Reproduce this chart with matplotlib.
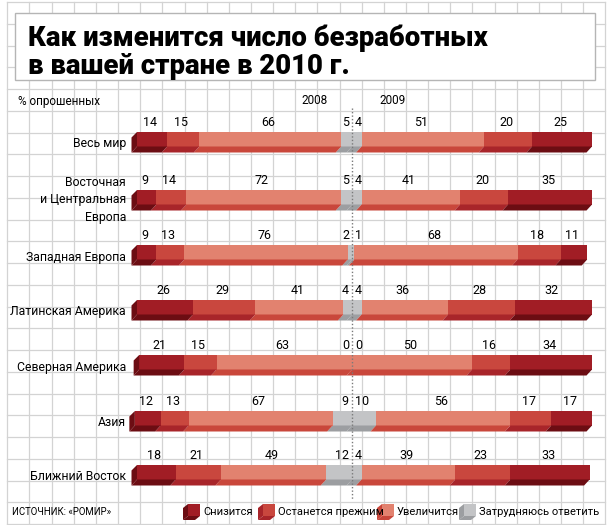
import matplotlib
matplotlib.use("Agg")
import matplotlib.pyplot as plt
from matplotlib.patches import Polygon, Rectangle

plt.rcParams['font.family'] = ['Roboto', 'DejaVu Sans']

# survey data, % of respondents
regions = ["Весь мир", "Восточная\nи Центральная\nЕвропа", "Западная Европа",
           "Латинская Америка", "Северная Америка", "Азия", "Ближний Восток"]
decrease_2008 = [14, 9, 9, 26, 21, 12, 18]
same_2008 = [15, 14, 13, 29, 15, 13, 21]
increase_2008 = [66, 72, 76, 41, 63, 67, 49]
unsure_2008 = [5, 5, 2, 4, 0, 9, 12]
decrease_2009 = [25, 35, 11, 32, 34, 17, 33]
same_2009 = [20, 20, 18, 28, 16, 17, 23]
increase_2009 = [51, 41, 68, 36, 50, 56, 39]
unsure_2009 = [4, 4, 1, 4, 0, 10, 4]

legend_labels = ["Снизится", "Останется прежним", "Увеличится", "Затрудняюсь ответить"]

# top face / bottom face colours per category
face = ["#a11d25", "#c9473e", "#e2826f", "#c3c4c6"]
shade = ["#6c0d13", "#a8252a", "#c9473b", "#9c9ea1"]

# layout in pixels
CENTER = 352
SCALE_L = 2.15
SCALE_R = 2.4
H_FRONT = 14.5
H_BOT = 6
D = 5.5
row_top = [132, 190, 245, 300, 355, 411, 465]


def draw_segment(ax, x0, x1, ytop, c_top, c_bot):
    if x1 - x0 <= 0:
        return
    ym = ytop + H_FRONT
    yb = ym + H_BOT
    ax.add_patch(Rectangle((x0, ytop), x1 - x0, H_FRONT, color=c_top, lw=0))
    ax.add_patch(Polygon([(x0, ym), (x1, ym), (x1 - D, yb), (x0 - D, yb)],
                         closed=True, color=c_bot, lw=0))


def draw_cap(ax, x0, ytop, c):
    ym = ytop + H_FRONT
    yb = ym + H_BOT
    ax.add_patch(Polygon([(x0, ytop), (x0, ym), (x0 - D, yb), (x0 - D, ytop + D)],
                         closed=True, color=c, lw=0))


fig = plt.figure(figsize=(6.11, 5.25), dpi=100)
ax = fig.add_axes([0, 0, 1, 1])
ax.set_xlim(0, 611)
ax.set_ylim(525, 0)
ax.axis("off")

# graph paper background
gx = [7.3 + 22.15 * k for k in range(28)]
gy = [2 + 21.75 * k for k in range(25)]
for x in gx:
    ax.plot([x, x], [gy[0], gy[-1]], color="#d3d3d3", lw=0.9, zorder=0)
for y in gy:
    ax.plot([gx[0], gx[-1]], [y, y], color="#d3d3d3", lw=0.9, zorder=0)

# title box
ax.add_patch(Rectangle((15, 13), 580, 67, facecolor="white", edgecolor="#b5b5b5",
                       lw=1, zorder=1))
ax.text(28, 46, "Как изменится число безработных", fontsize=19.8, fontweight="black",
        va="baseline", ha="left", zorder=2)
ax.text(28, 74, "в вашей стране в 2010 г.", fontsize=19.8, fontweight="black",
        va="baseline", ha="left", zorder=2)

ax.text(18, 101, "% опрошенных", fontsize=8.5, va="center", ha="left")
ax.text(315, 100, "2008", fontsize=8.5, va="center", ha="center")
ax.text(393, 100, "2009", fontsize=8.5, va="center", ha="center")

for i, name in enumerate(regions):
    yt = row_top[i]
    left = [unsure_2008[i], increase_2008[i], same_2008[i], decrease_2008[i]]
    right = [unsure_2009[i], increase_2009[i], same_2009[i], decrease_2009[i]]
    cats = [3, 2, 1, 0]

    # 2008, drawn from center to the left
    x_in = CENTER
    for v, c in zip(left, cats):
        x_out = x_in - v * SCALE_L
        draw_segment(ax, x_out, x_in, yt, face[c], shade[c])
        if c == 3:
            ax.text(CENTER - 3, yt - 3, str(v), fontsize=9, ha="right", va="bottom")
        else:
            ax.text((x_out + x_in) / 2 - 2, yt - 3, str(v), fontsize=9,
                    ha="center", va="bottom")
        x_in = x_out
    draw_cap(ax, x_in, yt, shade[0])

    # 2009, drawn from center to the right
    x_in = CENTER
    for v, c in zip(right, cats):
        x_out = x_in + v * SCALE_R
        draw_segment(ax, x_in, x_out, yt, face[c], shade[c])
        if c == 3:
            ax.text(CENTER + 3, yt - 3, str(v), fontsize=9, ha="left", va="bottom")
        else:
            ax.text((x_out + x_in) / 2 - 2, yt - 3, str(v), fontsize=9,
                    ha="center", va="bottom")
        x_in = x_out

    if "\n" in name:
        ax.text(126, yt + 10, name, fontsize=8.8, ha="right", va="center",
                linespacing=1.5, multialignment="right")
    else:
        ax.text(126, yt + 12, name, fontsize=8.8, ha="right", va="center")

# dotted divider
ax.plot([CENTER, CENTER], [108, 500], color="#7a7a7a", lw=1, ls=(0, (1, 1.5)), zorder=5)

# source and legend
ax.text(12, 512, "ИСТОЧНИК: «РОМИР»", fontsize=6.9, ha="left", va="center")
icon_x = [183, 258, 377, 459]
for k, lab in enumerate(legend_labels):
    x = icon_x[k]
    ax.add_patch(Rectangle((x + 5, 504), 12, 12, color=face[k], lw=0))
    ax.add_patch(Polygon([(x, 508), (x + 5, 504), (x + 5, 516), (x, 520)],
                         closed=True, color=shade[k], lw=0))
    ax.add_patch(Polygon([(x, 520), (x + 5, 516), (x + 17, 516), (x + 12, 520)],
                         closed=True, color=shade[k], lw=0))
    ax.text(x + 20, 512, lab, fontsize=8, ha="left", va="center")

fig.savefig("out.png", dpi=100)
